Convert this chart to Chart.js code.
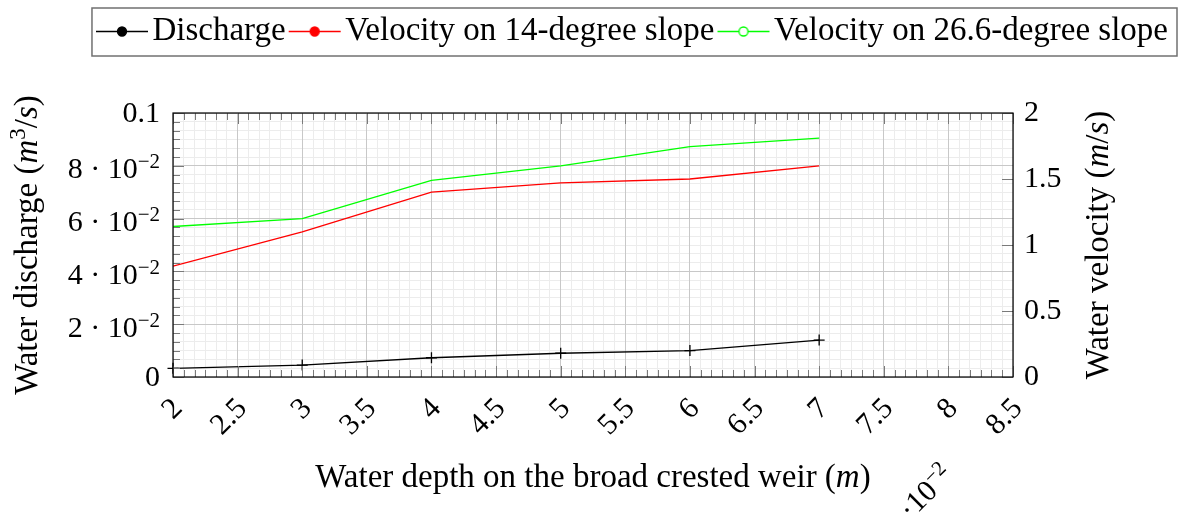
<!DOCTYPE html>
<html>
<head>
<meta charset="utf-8">
<title>Broad crested weir</title>
<script src="https://cdn.jsdelivr.net/npm/chart.js@4.4.1/dist/chart.umd.min.js"></script>
<style>
  html, body { margin: 0; padding: 0; background: #fff; }
  #wrap { width: 1179px; height: 527px; position: relative; }
</style>
</head>
<body>
<div id="wrap"><canvas id="weir-chart"></canvas></div>
<script>
// depth in units of 10^-2 m
var depth = [2, 3, 4, 5, 6, 7];
var discharge = [0.0033, 0.0045, 0.0073, 0.009, 0.01, 0.014];
var velocity14 = [0.84, 1.1, 1.4, 1.47, 1.5, 1.6];
var velocity266 = [1.14, 1.2, 1.49, 1.6, 1.745, 1.81];

var seriesNames = ["Discharge", "Velocity on 14-degree slope", "Velocity on 26.6-degree slope"];
var seriesColors = ["#000000", "#ff0000", "#00ff00"];

var depthTicks = [2, 2.5, 3, 3.5, 4, 4.5, 5, 5.5, 6, 6.5, 7, 7.5, 8, 8.5];
var dischargeTicks = [0, 0.02, 0.04, 0.06, 0.08, 0.1];
var dischargeLabels = ["0", "2 · 10^−2", "4 · 10^−2", "6 · 10^−2", "8 · 10^−2", "0.1"];
var velocityTicks = [0, 0.5, 1, 1.5, 2];
var velocityLabels = ["0", "0.5", "1", "1.5", "2"];

var SERIF = '"Liberation Serif", "Times New Roman", serif';
function font(size, italic) {
  return (italic ? "italic " : "") + size + "px " + SERIF;
}

// draw a row of text pieces with different fonts / vertical shifts
function textRuns(ctx, runs, x, y, align) {
  var total = 0;
  runs.forEach(function (r) {
    ctx.font = r.font;
    r.w = ctx.measureText(r.text).width;
    total += r.w;
  });
  var cx = align === "right" ? x - total : align === "center" ? x - total / 2 : x;
  ctx.textAlign = "left";
  runs.forEach(function (r) {
    ctx.font = r.font;
    ctx.fillText(r.text, cx, y + (r.dy || 0));
    cx += r.w;
  });
}

// "8 · 10^−2" -> base + superscript
function powerRuns(label, size, baseDy, expDy) {
  var parts = label.split("^");
  if (parts.length === 1) return [{ text: label, font: font(size), dy: 1 }];
  return [
    { text: parts[0], font: font(size), dy: baseDy },
    { text: parts[1], font: font(Math.round(size * 0.7)), dy: expDy }
  ];
}

// legend glyph: short line with a circle mark in the middle
function legendIcon(color, filled) {
  var c = document.createElement("canvas");
  c.width = 112;
  c.height = 21;
  var g = c.getContext("2d");
  g.strokeStyle = color;
  g.lineWidth = 1.3;
  g.beginPath();
  g.moveTo(36, 10.5);
  g.lineTo(88, 10.5);
  g.stroke();
  g.beginPath();
  g.arc(62, 10.5, 4.5, 0, 2 * Math.PI);
  g.fillStyle = filled ? color : "#ffffff";
  g.fill();
  g.stroke();
  return c;
}
var legendIcons = [
  legendIcon(seriesColors[0], true),
  legendIcon(seriesColors[1], true),
  legendIcon(seriesColors[2], false)
];

function minorGrid(ctx) {
  return ctx.tick && ctx.tick.value % 6 !== 0 ? "#ececec" : "rgba(0,0,0,0)";
}

// pgfplots-like frame, inner ticks, tick labels and axis titles
var pgfAxes = {
  id: "pgfAxes",
  afterDraw: function (chart) {
    var ctx = chart.ctx, ca = chart.chartArea;
    var sx = chart.scales.x, sy = chart.scales.y, sv = chart.scales.y1;
    var mx = chart.scales.xMinor, my = chart.scales.yMinor;
    ctx.save();

    function seg(x1, y1, x2, y2) {
      ctx.beginPath();
      ctx.moveTo(x1, y1);
      ctx.lineTo(x2, y2);
      ctx.stroke();
    }
    ctx.strokeStyle = "#7a7a7a";
    ctx.lineWidth = 1;
    mx.ticks.forEach(function (t) {
      var px = Math.round(mx.getPixelForValue(t.value)) + 0.5;
      var len = t.value % 6 === 0 ? 11 : 7;
      seg(px, ca.bottom, px, ca.bottom - len);
      seg(px, ca.top, px, ca.top + len);
    });
    my.ticks.forEach(function (t) {
      var py = Math.round(my.getPixelForValue(t.value)) + 0.5;
      var len = t.value % 6 === 0 ? 11 : 7;
      seg(ca.left, py, ca.left + len, py);
    });
    sv.ticks.forEach(function (t) {
      var py = Math.round(sv.getPixelForValue(t.value)) + 0.5;
      seg(ca.right, py, ca.right - 11, py);
    });

    ctx.strokeStyle = "#000";
    ctx.lineWidth = 1.2;
    ctx.strokeRect(ca.left, ca.top, ca.right - ca.left, ca.bottom - ca.top);

    ctx.fillStyle = "#000";
    ctx.textBaseline = "middle";

    // left axis labels
    sy.ticks.forEach(function (t, i) {
      var py = sy.getPixelForValue(t.value);
      textRuns(ctx, powerRuns(dischargeLabels[i], 30, 4.5, -3), ca.left - 13, py, "right");
    });

    // rotated depth labels
    sx.ticks.forEach(function (t) {
      var px = sx.getPixelForValue(t.value);
      ctx.save();
      ctx.translate(px + 5, ca.bottom + 27);
      ctx.rotate(-Math.PI / 4);
      ctx.font = font(30);
      ctx.textAlign = "right";
      ctx.fillText(String(t.value), 0, 0);
      ctx.restore();
    });

    // x scale factor
    ctx.save();
    ctx.translate(ca.right - 86, ca.bottom + 116);
    ctx.rotate(-Math.PI / 4);
    textRuns(ctx, [
      { text: "·10", font: font(30), dy: 0 },
      { text: "−2", font: font(21), dy: -8 }
    ], 0, 0, "center");
    ctx.restore();

    // axis titles
    ctx.textBaseline = "alphabetic";
    var midY = (ca.top + ca.bottom) / 2;
    textRuns(ctx, [
      { text: "Water depth on the broad crested weir (", font: font(33) },
      { text: "m", font: font(33, true) },
      { text: ")", font: font(33) }
    ], (ca.left + ca.right) / 2, ca.bottom + 110, "center");

    ctx.save();
    ctx.translate(37, midY);
    ctx.rotate(-Math.PI / 2);
    textRuns(ctx, [
      { text: "Water discharge (", font: font(33) },
      { text: "m", font: font(33, true) },
      { text: "3", font: font(23), dy: -12 },
      { text: "/", font: font(33) },
      { text: "s", font: font(33, true) },
      { text: ")", font: font(33) }
    ], 0, 0, "center");
    ctx.restore();

    ctx.save();
    ctx.translate(ca.right + 95, midY);
    ctx.rotate(-Math.PI / 2);
    textRuns(ctx, [
      { text: "Water velocity (", font: font(33) },
      { text: "m", font: font(33, true) },
      { text: "/", font: font(33) },
      { text: "s", font: font(33, true) },
      { text: ")", font: font(33) }
    ], 0, 0, "center");
    ctx.restore();

    // legend frame
    var lg = chart.legend, hb = lg.legendHitBoxes;
    if (hb && hb.length) {
      var first = hb[0], last = hb[hb.length - 1];
      ctx.strokeStyle = "#707070";
      ctx.lineWidth = 1.5;
      ctx.strokeRect(first.left - 4, lg.top - 4, last.left + last.width - first.left + 13, 48);
    }
    ctx.restore();
  }
};

var ctx = document.getElementById("weir-chart");
var weirChart = new Chart(ctx, {
  type: "line",
  data: {
    datasets: [{
      label: seriesNames[0],
      data: depth.map(function (d, i) { return { x: d, y: discharge[i] }; }),
      xAxisID: "x",
      yAxisID: "y",
      borderColor: seriesColors[0],
      borderWidth: 1.3,
      pointStyle: "cross",
      pointRadius: 5.5,
      pointBorderColor: seriesColors[0],
      pointBorderWidth: 1.3,
      tension: 0,
      clip: false
    }, {
      label: seriesNames[1],
      data: depth.map(function (d, i) { return { x: d, y: velocity14[i] }; }),
      xAxisID: "x",
      yAxisID: "y1",
      borderColor: seriesColors[1],
      borderWidth: 1.3,
      pointRadius: 0,
      tension: 0
    }, {
      label: seriesNames[2],
      data: depth.map(function (d, i) { return { x: d, y: velocity266[i] }; }),
      xAxisID: "x",
      yAxisID: "y1",
      borderColor: seriesColors[2],
      borderWidth: 1.3,
      pointRadius: 0,
      tension: 0
    }]
  },
  options: {
    animation: false,
    responsive: true,
    maintainAspectRatio: false,
    devicePixelRatio: 1,
    events: [],
    layout: { padding: { top: 12, right: 8, left: 0, bottom: 0 } },
    plugins: {
      tooltip: { enabled: false },
      legend: {
        position: "top",
        align: "end",
        labels: {
          usePointStyle: true,
          pointStyleWidth: 40,
          padding: 3,
          color: "#000",
          font: { family: SERIF, size: 33 },
          generateLabels: function (chart) {
            return chart.data.datasets.map(function (ds, i) {
              return {
                text: ds.label,
                pointStyle: legendIcons[i],
                datasetIndex: i,
                hidden: false,
                fontColor: "#000",
                lineWidth: 1,
                rotation: 0,
                strokeStyle: "rgba(0,0,0,0)",
                fillStyle: "rgba(0,0,0,0)"
              };
            });
          }
        }
      }
    },
    scales: {
      xMinor: {
        type: "linear",
        position: "top",
        min: 0,
        max: 78,
        ticks: { display: false, stepSize: 1 },
        grid: { color: minorGrid, drawTicks: false },
        border: { display: false },
        afterFit: function (s) { s.height = 55; }
      },
      yMinor: {
        type: "linear",
        position: "left",
        min: 0,
        max: 30,
        ticks: { display: false, stepSize: 1 },
        grid: { color: minorGrid, drawTicks: false },
        border: { display: false },
        afterFit: function (s) { s.width = 0; }
      },
      x: {
        type: "linear",
        position: "bottom",
        min: 2,
        max: 8.5,
        afterBuildTicks: function (s) { s.ticks = depthTicks.map(function (v) { return { value: v }; }); },
        ticks: { display: false },
        grid: { color: "#c8c8c8", drawTicks: false },
        border: { display: false },
        afterFit: function (s) { s.height = 150; }
      },
      y: {
        type: "linear",
        position: "left",
        min: 0,
        max: 0.1,
        afterBuildTicks: function (s) { s.ticks = dischargeTicks.map(function (v) { return { value: v }; }); },
        ticks: { display: false },
        grid: { color: "#c8c8c8", drawTicks: false },
        border: { display: false },
        afterFit: function (s) { s.width = 173; }
      },
      y1: {
        type: "linear",
        position: "right",
        min: 0,
        max: 2,
        afterBuildTicks: function (s) { s.ticks = velocityTicks.map(function (v) { return { value: v }; }); },
        ticks: {
          color: "#000",
          padding: 11,
          font: { family: SERIF, size: 30 },
          callback: function (v, i) { return velocityLabels[i]; }
        },
        grid: { display: false, drawTicks: false },
        border: { display: false },
        afterFit: function (s) { s.width = 158; }
      }
    }
  },
  plugins: [pgfAxes]
});
</script>
</body>
</html>
